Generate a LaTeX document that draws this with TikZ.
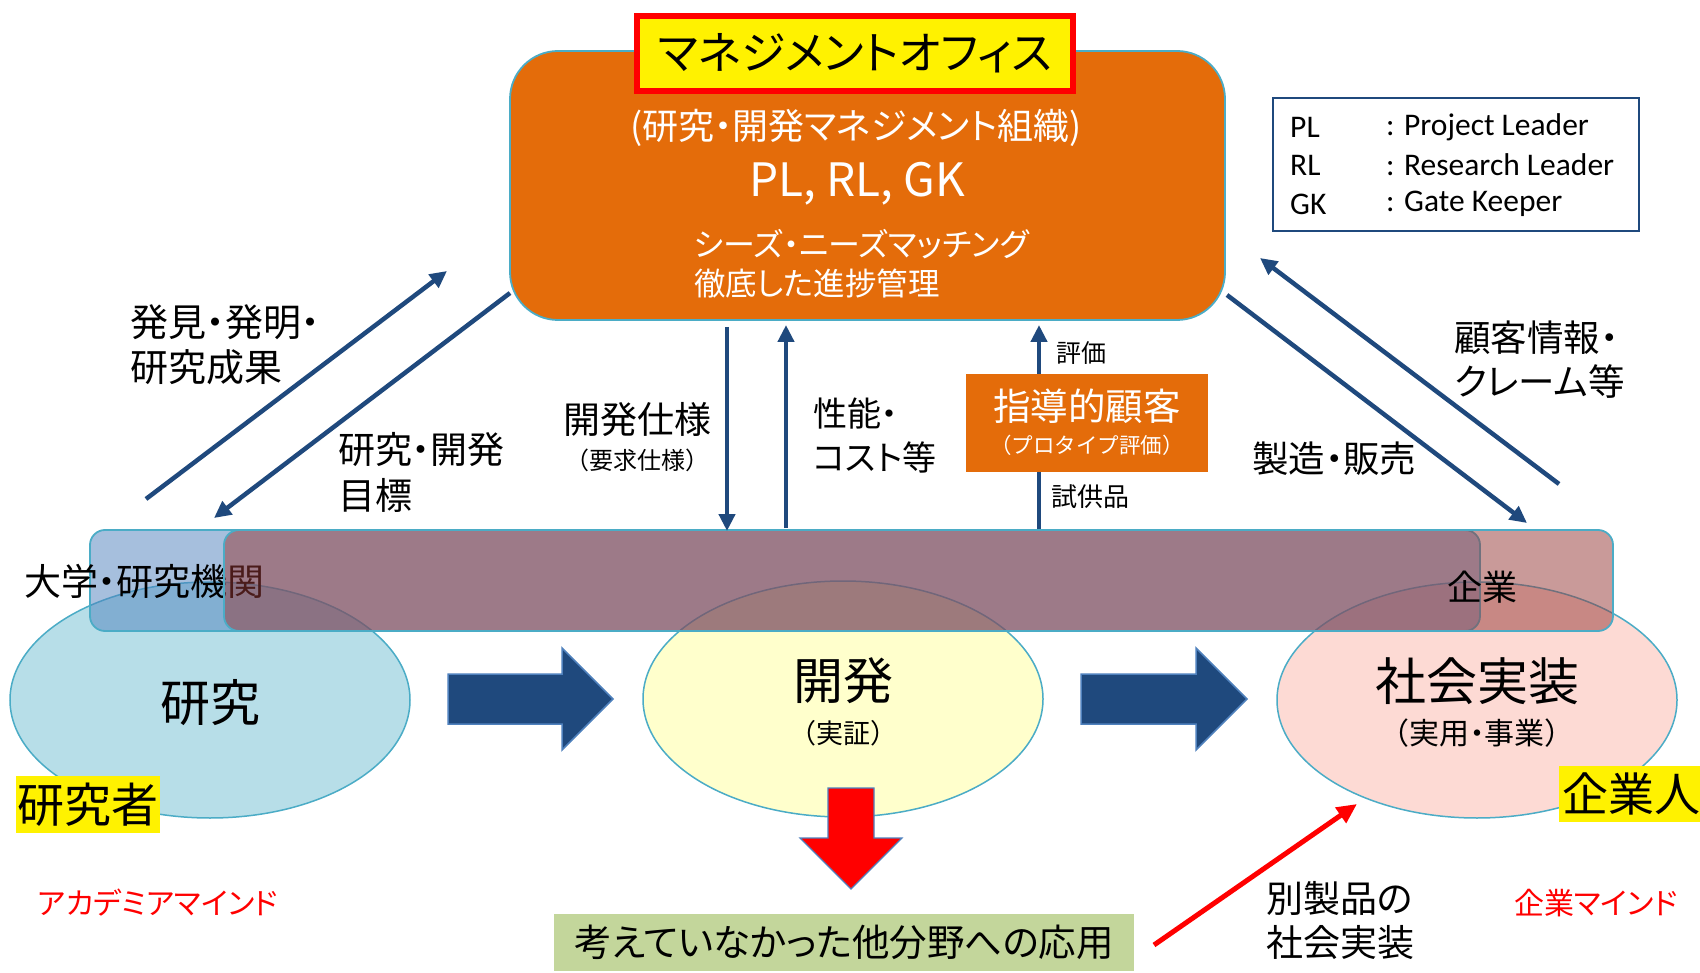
\documentclass[tikz,border=0pt]{standalone}
\usepackage{fontspec}
\setmainfont{Noto Sans CJK JP}[RawFeature=+palt]
\newfontfamily\jpfull{Noto Sans CJK JP}
\newfontfamily\legfont{Carlito}
\usetikzlibrary{arrows.meta,shapes.geometric}
\definecolor{orangeF}{HTML}{E46C0A}
\definecolor{cyanB}{HTML}{4BACC6}
\definecolor{navy}{HTML}{1F497D}
\definecolor{blockB}{HTML}{4F81BD}
\definecolor{bandA}{HTML}{4F81BD}
\definecolor{bandB}{HTML}{953735}
\definecolor{ellA}{HTML}{B7DEE8}
\definecolor{ellB}{HTML}{FFFFCC}
\definecolor{ellC}{HTML}{FDDAD4}
\definecolor{greenF}{HTML}{C3D69B}
\newcommand\fsz[1]{\fontsize{#1}{#1}\selectfont}
\begin{document}
\begin{tikzpicture}[x=1pt,y=-1pt,
  conn/.style={draw=navy, line width=4.5pt, -{Triangle[length=17pt,width=16pt]}},
  redconn/.style={draw=red, line width=5pt, -{Triangle[length=20pt,width=18pt]}},
  lbl/.style={inner sep=0pt, anchor=west, font=\fsz{37}},
  clbl/.style={inner sep=0pt, font=\fsz{37}},
  ell/.style={ellipse, draw=cyanB, line width=1.5pt, minimum width=400pt, minimum height=236pt, inner sep=0pt},
  band/.style={draw=cyanB, line width=1.8pt, fill opacity=0.5, rounded corners=15pt, minimum height=101pt, inner sep=0pt},
  blockarrow/.style={fill=navy, draw=blockB, line width=1.5pt},
  hl/.style={fill=yellow, inner sep=0pt},
  legtxt/.style={inner sep=0pt, anchor=west, font=\legfont\fsz{31.5}}
]
\useasboundingbox (0,0) rectangle (1700,973);
\fill[white] (0,0) rectangle (1700,973);

% ellipses
\node[ell, fill=ellA] (e1) at (210,700) {};
\node[ell, fill=ellB] (e2) at (843,699) {};
\node[ell, fill=ellC] (e3) at (1477,700) {};

% band
\node[band, fill=bandA, minimum width=1390pt] (bandA) at (785,580.5) {};
\node[inner sep=0pt, anchor=west, font=\fsz{37}] (univ) at (24,581) {大学・研究機関};
\node[band, fill=bandB, minimum width=1389pt] (bandB) at (918.5,580.5) {};
\node[inner sep=0pt, anchor=west, font=\fsz{35}] (corp) at (1447,587) {企業};

% ellipse texts
\node[clbl, font=\fsz{50}] (t1) at (210,703) {研究};
\node[clbl, font=\fsz{50}] (t2) at (843,681) {開発};
\node[clbl, font=\jpfull\fsz{27}] (t2b) at (843,733) {（実証）};
\node[clbl, font=\fsz{51}] (t3) at (1477,681) {社会実装};
\node[clbl, font=\fsz{30}] (t3b) at (1477,733) {{\jpfull（}実用・事業{\jpfull）}};

% block arrows
\filldraw[blockarrow] (448,674) -- (562,674) -- (562,648) -- (613,699) -- (562,750) -- (562,724) -- (448,724) -- cycle;
\filldraw[blockarrow] (1081,674) -- (1196,674) -- (1196,648) -- (1247,699) -- (1196,750) -- (1196,724) -- (1081,724) -- cycle;
% red down arrow
\filldraw[fill=red, draw=blockB, line width=1.2pt] (828,788) -- (874,788) -- (874,838) -- (902,838) -- (851,889) -- (800,838) -- (828,838) -- cycle;

% yellow highlights
\node[hl, minimum width=144pt, minimum height=57pt, font=\fsz{47}] (res) at (88,804.5) {研究者};
\node[hl, anchor=west, minimum height=56pt, minimum width=145pt, font=\fsz{46}, inner xsep=1pt] (biz) at (1559,794) {企業人};

% green box
\node[fill=greenF, minimum width=580pt, minimum height=57pt, inner sep=0pt, font=\fsz{37.5}] (app) at (844,942.5) {考えていなかった他分野への応用};

% red mind labels
\node[inner sep=0pt, font=\fsz{30}, text=red] (acad) at (158,903) {アカデミアマインド};
\node[inner sep=0pt, font=\fsz{30}, text=red] (bizmind) at (1596,903) {企業マインド};

% red connector
\coordinate (r1) at (1154,945);
\coordinate (r2) at (1357,804);
\draw[redconn] (r1) -- (r2);
\node[lbl] (other1) at (1266,898) {別製品の};
\node[lbl] (other2) at (1266,943) {社会実装};

% slanted connectors
\coordinate (la1) at (146,499);
\coordinate (la2) at (447,271);
\coordinate (lb1) at (510,293);
\coordinate (lb2) at (214,518);
\coordinate (ra1) at (1227,295);
\coordinate (ra2) at (1527,523);
\coordinate (rb1) at (1559,484);
\coordinate (rb2) at (1260,258);
\draw[conn] (la1) -- (la2);
\draw[conn] (lb1) -- (lb2);
\draw[conn] (ra1) -- (ra2);
\draw[conn] (rb1) -- (rb2);

% vertical connectors
\coordinate (v1a) at (727,327);
\coordinate (v1b) at (727,531);
\coordinate (v2a) at (786,528);
\coordinate (v2b) at (786,325);
\coordinate (v3a) at (1039,529);
\coordinate (v3b) at (1039,325);
\draw[conn] (v1a) -- (v1b);
\draw[conn] (v2a) -- (v2b);
\draw[conn] (v3a) -- (v3b);

% connector labels
\node[lbl, font=\fsz{38}] (l1a) at (130,322) {発見・発明・};
\node[lbl, font=\fsz{38}] (l1b) at (130,367) {研究成果};
\node[lbl] (l2a) at (338,450) {研究・開発};
\node[lbl] (l2b) at (338,495) {目標};
\node[clbl] (l3a) at (637,420) {開発仕様};
\node[clbl, font=\jpfull\fsz{24}] (l3b) at (637,460) {（要求仕様）};
\node[lbl, font=\fsz{34}] (l4a) at (813,414) {性能・};
\node[lbl, font=\fsz{34}] (l4b) at (813,457) {コスト等};
\node[lbl, font=\fsz{25}] (l5) at (1056,353) {評価};
\node[lbl, font=\fsz{26}] (l6) at (1051,497) {試供品};
\node[lbl, font=\fsz{36.5}] (l7) at (1252,459) {製造・販売};
\node[lbl, font=\fsz{36.5}] (l8a) at (1454,338) {顧客情報・};
\node[lbl, font=\fsz{36.5}] (l8b) at (1454,382) {クレーム等};

% leading customer box
\node[fill=orangeF, minimum width=242pt, minimum height=98pt, inner sep=0pt] (cust) at (1087,423) {};
\node[clbl, text=white, font=\fsz{37.5}] (custa) at (1087,406) {指導的顧客};
\node[clbl, text=white, font=\jpfull\fsz{21.5}] (custb) at (1087,445) {（プロタイプ評価）};

% management office
\node[fill=orangeF, draw=cyanB, line width=1.8pt, rounded corners=48pt, minimum width=715pt, minimum height=269pt, inner sep=0pt] (mo) at (867.5,185.5) {};
\node[draw=red, line width=6pt, fill=yellow, minimum width=436pt, minimum height=75pt, inner sep=0pt, font=\fsz{45}] (title) at (855,53.5) {マネジメントオフィス};
\node[clbl, text=white, font=\fsz{36}] (mo1) at (856,128) {(研究・開発マネジメント組織)};
\node[clbl, text=white, font=\fsz{46}] (mo2) at (857,184) {PL, RL, GK};
\node[lbl, text=white, font=\fsz{32}] (mo3) at (694,244) {シーズ・ニーズマッチング};
\node[lbl, text=white, font=\fsz{31.5}] (mo4) at (694,284) {徹底した進捗管理};

% legend
\node[draw=navy, line width=1.8pt, fill=white, minimum width=366pt, minimum height=133pt, inner sep=0pt] (leg) at (1456,164.5) {};
\node[legtxt] (lg1a) at (1290,127) {PL};
\node[legtxt] (lg1b) at (1386,127) {: Project Leader};
\node[legtxt] (lg2a) at (1290,165) {RL};
\node[legtxt] (lg2b) at (1386,165) {: Research Leader};
\node[legtxt] (lg3a) at (1290,204) {GK};
\node[legtxt] (lg3b) at (1386,204) {: Gate Keeper};
\end{tikzpicture}
\end{document}
